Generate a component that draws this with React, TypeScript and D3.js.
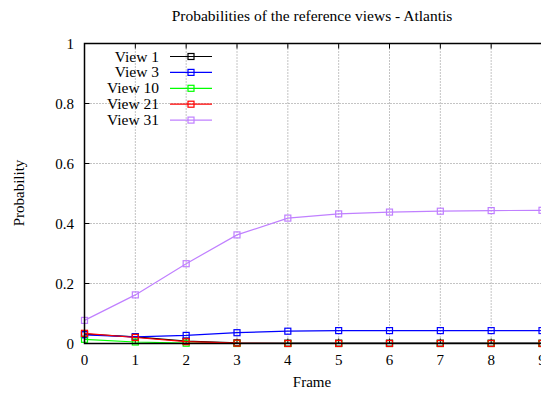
import React from "react";
import * as d3 from "d3";

const frames = [0, 1, 2, 3, 4, 5, 6, 7, 8, 9];
const view1 = [0.031, 0.022, 0.008, 0.002, 0.001, 0.001, 0.001, 0.001, 0.001, 0.001];
const view3 = [0.029, 0.022, 0.027, 0.036, 0.041, 0.043, 0.043, 0.043, 0.043, 0.043];
const view10 = [0.014, 0.005, 0.001, 0.0, 0.0, 0.0, 0.0, 0.0, 0.0, 0.0];
const view21 = [0.034, 0.02, 0.006, 0.001, 0.0, 0.0, 0.0, 0.0, 0.0, 0.0];
const view31 = [0.077, 0.162, 0.266, 0.362, 0.418, 0.432, 0.438, 0.441, 0.443, 0.444];
const yTicks = [0, 0.2, 0.4, 0.6, 0.8, 1];
const yTickLabels = ["0", "0.2", "0.4", "0.6", "0.8", "1"];
const seriesNames = ["View 1", "View 3", "View 10", "View 21", "View 31"];
const seriesColors = ["#000000", "#0000ff", "#00ff00", "#ff0000", "#c080ff"];
const seriesValues = [view1, view3, view10, view21, view31];

const W = 541;
const H = 393;
const FONT = "'Liberation Serif', 'DejaVu Serif', serif";

export default function App() {
  const x = d3.scaleLinear().domain([0, 9]).range([84.5, 542]);
  const y = d3.scaleLinear().domain([0, 1]).range([343.5, 43.5]);
  const line = d3
    .line<number>()
    .x((_, i) => x(frames[i]))
    .y((d) => y(d));

  const legendRowY = (i: number) => 56.5 + i * 15.9;

  return (
    <svg width={W} height={H} style={{ position: "absolute", left: 0, top: 0, background: "#fff" }} fontFamily={FONT}>
      <rect x={0} y={0} width={W} height={H} fill="#fff" />
      {/* grid */}
      {frames.slice(1).map((f) => (
        <line key={"gx" + f} x1={x(f)} x2={x(f)} y1={y(0)} y2={y(1)} stroke="#888" strokeWidth={1} strokeDasharray="1,2" />
      ))}
      {yTicks.slice(1, -1).map((t) => (
        <line key={"gy" + t} x1={x(0)} x2={x(9)} y1={y(t)} y2={y(t)} stroke="#888" strokeWidth={1} strokeDasharray="1,2" />
      ))}
      {/* ticks */}
      {frames.map((f) => (
        <g key={"tx" + f}>
          <line x1={x(f)} x2={x(f)} y1={y(0)} y2={y(0) - 5} stroke="#000" />
          <line x1={x(f)} x2={x(f)} y1={y(1)} y2={y(1) + 5} stroke="#000" />
          <text x={x(f)} y={365} fontSize={15} textAnchor="middle" fill="#000">
            {f}
          </text>
        </g>
      ))}
      {yTicks.map((t, i) => (
        <g key={"ty" + t}>
          <line x1={x(0)} x2={x(0) + 5} y1={y(t)} y2={y(t)} stroke="#000" />
          <text x={74} y={y(t) + 5} fontSize={15} textAnchor="end" fill="#000">
            {yTickLabels[i]}
          </text>
        </g>
      ))}
      {/* series */}
      {seriesValues.map((vals, si) => (
        <g key={"s" + si}>
          <path d={line(vals) || ""} fill="none" stroke={seriesColors[si]} strokeWidth={1.2} />
          {vals.map((v, i) => (
            <rect key={i} x={x(frames[i]) - 3} y={y(v) - 3} width={6} height={6} fill="none" stroke={seriesColors[si]} strokeWidth={1.2} />
          ))}
        </g>
      ))}
      {/* border */}
      <path d={`M${x(9)},${y(1)} H${x(0)} V${y(0)} H${x(9)}`} fill="none" stroke="#000" strokeWidth={1.5} />
      <line x1={x(9)} x2={x(9)} y1={y(0)} y2={y(1)} stroke="#000" strokeWidth={1.5} />
      {/* legend */}
      {seriesNames.map((n, i) => (
        <g key={"l" + i}>
          <text x={159} y={legendRowY(i) + 5} fontSize={15.5} textAnchor="end" fill="#000">
            {n}
          </text>
          <line x1={170} x2={212} y1={legendRowY(i)} y2={legendRowY(i)} stroke={seriesColors[i]} strokeWidth={1.2} />
          <rect x={188} y={legendRowY(i) - 3} width={6} height={6} fill="none" stroke={seriesColors[i]} strokeWidth={1.2} />
        </g>
      ))}
      {/* titles */}
      <text x={312} y={21} fontSize={15.5} textAnchor="middle" fill="#000">
        Probabilities of the reference views - Atlantis
      </text>
      <text x={312} y={387} fontSize={15} textAnchor="middle" fill="#000">
        Frame
      </text>
      <text transform={`translate(24,193) rotate(-90)`} fontSize={15} textAnchor="middle" fill="#000">
        Probability
      </text>
    </svg>
  );
}
